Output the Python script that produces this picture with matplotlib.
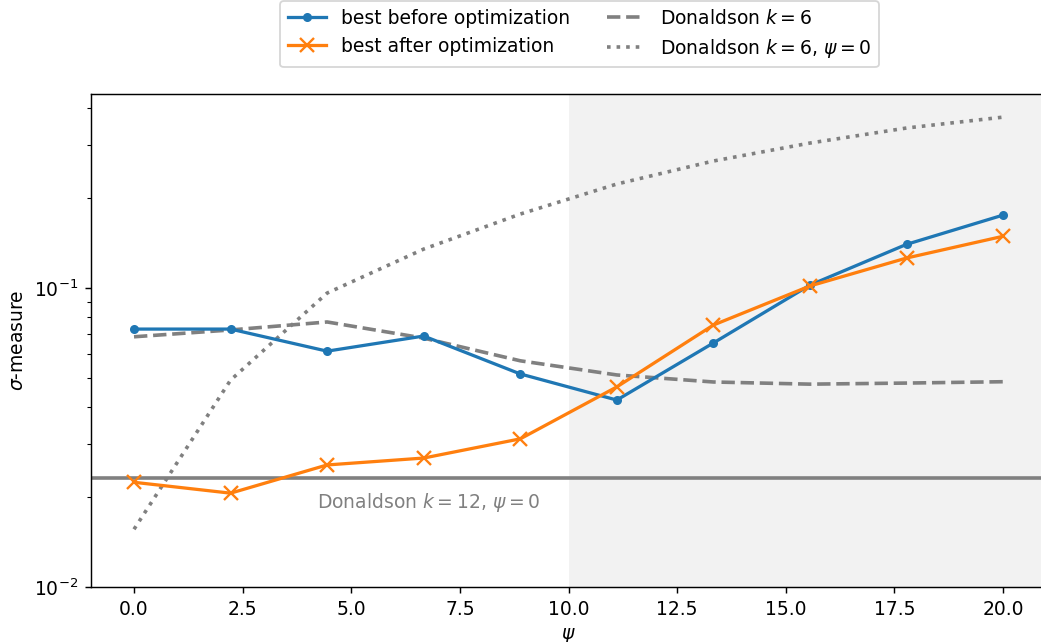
import numpy as np
import matplotlib
matplotlib.use("Agg")
import matplotlib.pyplot as plt

psi = [0.0, 2.222, 4.444, 6.667, 8.889, 11.111, 13.333, 15.556, 17.778, 20.0]
before_opt = [0.0729, 0.0729, 0.0615, 0.0691, 0.0516, 0.0422, 0.0655, 0.1023, 0.140, 0.1754]
after_opt = [0.0224, 0.0206, 0.0256, 0.0270, 0.0313, 0.0467, 0.0752, 0.1016, 0.126, 0.149]
donaldson_k6 = [0.0687, 0.0724, 0.0770, 0.0680, 0.0571, 0.0512, 0.0485, 0.0477, 0.0481, 0.0486]
donaldson_k6_psi0 = [0.0156, 0.0492, 0.0962, 0.135, 0.1768, 0.2228, 0.266, 0.3055, 0.343, 0.373]
donaldson_k12_psi0 = 0.0232

plt.rcParams['font.size'] = 10.4

W, H, DPI = 1041, 642, 130
fig = plt.figure(figsize=(W / DPI, H / DPI), dpi=DPI)
ax = fig.add_axes([90.55 / W, (H - 587) / H, 956 / W, 493 / H])

ax.axvspan(10, 22, color='0.95', zorder=0, lw=0)
ax.axhline(donaldson_k12_psi0, color='gray', lw=2, zorder=1)
ax.text(4.2, 0.0191, r'Donaldson $k=12$, $\psi=0$', color='gray', va='center', ha='left')

l1, = ax.plot(psi, before_opt, '-o', color='#1f77b4', lw=1.8, ms=4, label='best before optimization', zorder=3)
l2, = ax.plot(psi, after_opt, '-x', color='#ff7f0e', lw=1.8, ms=8, mew=1.3, label='best after optimization', zorder=3)
l3, = ax.plot(psi, donaldson_k6, '--', color='gray', lw=2, label=r'Donaldson $k=6$', zorder=2)
l4, = ax.plot(psi, donaldson_k6_psi0, ':', color='gray', lw=2, label=r'Donaldson $k=6$, $\psi=0$', zorder=2)

ax.set_yscale('log')
ax.set_xlim(-1, 21)
ax.set_ylim(0.01, 0.4457)
ax.set_xticks([0, 2.5, 5, 7.5, 10, 12.5, 15, 17.5, 20])
ax.set_xticklabels(['0.0', '2.5', '5.0', '7.5', '10.0', '12.5', '15.0', '17.5', '20.0'])
ax.set_xlabel(r'$\psi$')
ax.set_ylabel(r'$\sigma$-measure')

fig.legend(handles=[l1, l2, l3, l4], ncol=2, loc='upper center',
           bbox_to_anchor=(579.5 / W, 1.0 - 1.0 / H), borderaxespad=0.0, frameon=True)

fig.savefig('out.png', dpi=DPI)
